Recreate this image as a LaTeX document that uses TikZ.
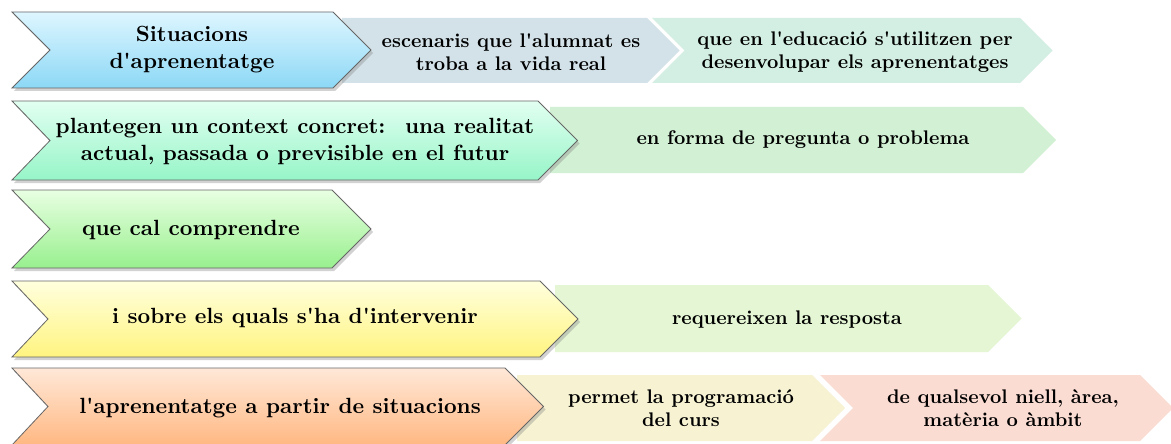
\documentclass[tikz,border=0pt]{standalone}
\usepackage{fontspec}
\setmainfont{lmroman10}[Extension=.otf, UprightFont=*-regular, BoldFont=*-bold,
  ItalicFont=*-italic, BoldItalicFont=*-bolditalic, Ligatures=TeXOff]
\usetikzlibrary{shadows}

\definecolor{cyanT}{RGB}{222,246,255}
\definecolor{cyanB}{RGB}{140,216,246}
\definecolor{mintT}{RGB}{226,255,241}
\definecolor{mintB}{RGB}{150,245,200}
\definecolor{lgrnT}{RGB}{232,255,226}
\definecolor{lgrnB}{RGB}{152,240,142}
\definecolor{yelT}{RGB}{255,255,222}
\definecolor{yelB}{RGB}{255,244,128}
\definecolor{orgT}{RGB}{255,232,216}
\definecolor{orgB}{RGB}{255,184,130}
\definecolor{escC}{RGB}{211,226,232}
\definecolor{eduC}{RGB}{211,238,226}
\definecolor{preC}{RGB}{210,240,212}
\definecolor{resC}{RGB}{228,246,212}
\definecolor{progC}{RGB}{246,242,210}
\definecolor{nivC}{RGB}{250,220,210}

% left x, shoulder x, top y, bottom y, notch depth
\newcommand{\chevpath}[5]{(#1,#3) -- (#2,#3) -- ({#2+(#4-#3)/2},{(#3+#4)/2}) -- (#2,#4) -- (#1,#4) -- ({#1+#5},{(#3+#4)/2}) -- cycle}

\begin{document}
\begin{tikzpicture}[x=1pt, y=-1pt,
  main/.style={draw=black!60, line width=0.8pt,
               drop shadow={shadow xshift=2pt, shadow yshift=-3pt, opacity=0.35}},
  side/.style={fill=#1, draw=none},
  maintxt/.style={font=\bfseries\fontsize{22}{27}\selectfont, align=center, inner sep=0pt},
  sidetxt/.style={font=\bfseries\fontsize{19.7}{23}\selectfont, align=center, inner sep=0pt},
]
\useasboundingbox[fill=white] (0,0) rectangle (1171,444);

% ---------------- secondary arrows -----------------
\path[side=escC] \chevpath{342}{647}{18}{83}{0};
\path[side=eduC] \chevpath{652}{1020}{18}{83}{32.5};
\path[side=preC] \chevpath{550}{1023}{107}{173}{0};
\path[side=resC] \chevpath{555}{988}{285}{352}{0};
\path[side=progC] \chevpath{517}{812}{375}{441}{0};
\path[side=nivC] \chevpath{820}{1140}{375}{441}{33};

% ---------------- main arrows -----------------
\path[main, top color=cyanT, bottom color=cyanB] \chevpath{12}{333}{12}{88}{38};
\path[main, top color=mintT, bottom color=mintB] \chevpath{12}{538}{101}{180}{38};
\path[main, top color=lgrnT, bottom color=lgrnB] \chevpath{12}{332}{190}{268}{38};
\path[main, top color=yelT, bottom color=yelB] \chevpath{12}{540}{281}{357}{36};
\path[main, top color=orgT, bottom color=orgB] \chevpath{12}{505}{368}{445}{36};

% ---------------- texts -----------------
\node[maintxt] (sit) at (192,50) {Situacions\\d'aprenentatge};
\node[sidetxt] (esc) at (511,52) {escenaris que l'alumnat es\\troba a la vida real};
\node[sidetxt] (edu) at (855,52) {que en l'educació s'utilitzen per\\desenvolupar els aprenentatges};
\node[maintxt] (ctx) at (295,141) {plantegen un context concret: \ una realitat\\actual, passada o previsible en el futur};
\node[sidetxt] (preg) at (803,140) {en forma de pregunta o problema};
\node[maintxt] (comp) at (191,230) {que cal comprendre};
\node[maintxt] (int) at (295,318) {i sobre els quals s'ha d'intervenir};
\node[sidetxt] (resp) at (787,320) {requereixen la resposta};
\node[maintxt] (apr) at (280,408) {l'aprenentatge a partir de situacions};
\node[sidetxt] (prog) at (681,408) {permet la programació\\del curs};
\node[sidetxt] (niv) at (1003,408) {de qualsevol niell, àrea,\\matèria o àmbit};
\end{tikzpicture}
\end{document}
